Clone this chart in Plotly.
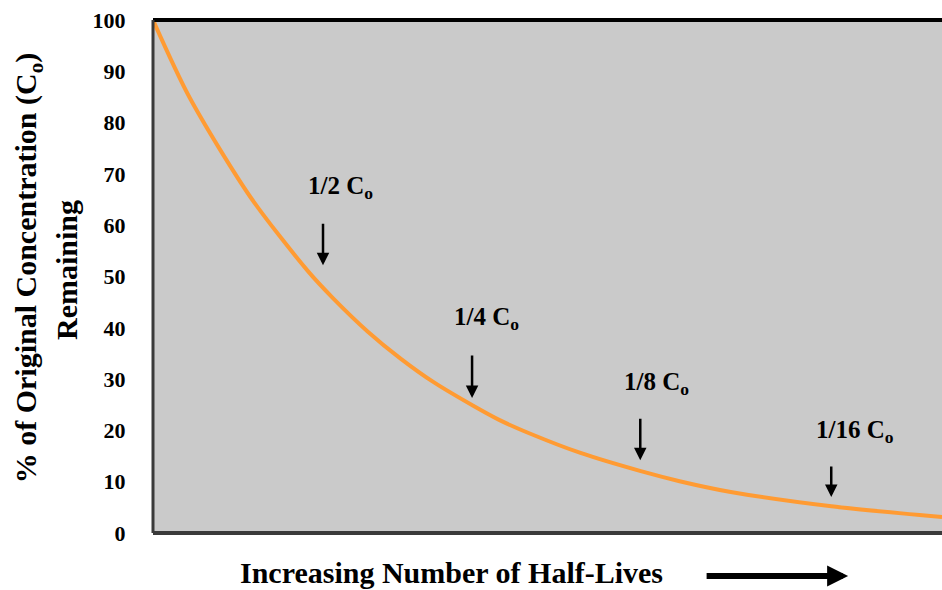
import plotly.graph_objects as go

# Curve (x in half-lives, y in % of C0 remaining)
half_lives = [0, 0.22, 0.59, 0.94, 1.09, 1.30, 1.50, 1.70, 1.94, 2.10, 2.29, 2.59, 2.95, 3.19, 3.50, 4.11, 4.78]
pct_remaining = [100, 85.0, 65.5, 51.0, 45.8, 39.3, 34.0, 29.4, 24.8, 22.0, 19.3, 15.6, 12.1, 10.1, 8.0, 5.2, 3.1]

# Arrow markers: label text, arrow x, arrow-tip y, label x, label y
marker_labels = ["1/2 C<sub>o</sub>", "1/4 C<sub>o</sub>", "1/8 C<sub>o</sub>", "1/16 C<sub>o</sub>"]
arrow_x = [1.03, 1.933, 2.952, 4.109]
arrow_tip_y = [52.2, 26.3, 14.2, 7.0]
arrow_len_px = [43, 44, 43, 32]
label_x = [1.133, 2.018, 3.048, 4.255]
label_y = [67.4, 41.9, 29.2, 19.7]

y_ticks = [0, 10, 20, 30, 40, 50, 60, 70, 80, 90, 100]

FONT = "Liberation Serif, Times New Roman, serif"

fig = go.Figure()
fig.add_trace(go.Scatter(
    x=half_lives, y=pct_remaining, mode="lines",
    line=dict(color="#FF9B33", width=4, shape="spline", smoothing=0.8),
    hoverinfo="skip", showlegend=False,
))

annotations = []
for t, ax_, ty, al, lx, ly in zip(marker_labels, arrow_x, arrow_tip_y, arrow_len_px, label_x, label_y):
    annotations.append(dict(
        x=ax_, y=ty, xref="x", yref="y", text="", showarrow=True,
        ax=0, ay=-al, arrowhead=2, arrowsize=1, arrowwidth=2.5, arrowcolor="black",
    ))
    annotations.append(dict(
        x=lx, y=ly, xref="x", yref="y", text=t, showarrow=False,
        font=dict(family=FONT, size=25, color="black", weight="bold"),
        xanchor="center", yanchor="middle",
    ))

# Y axis title (two lines as separate rotated annotations)
annotations.append(dict(
    x=-0.158, y=0.5166, xref="paper", yref="paper",
    text="% of Original Concentration (C<sub>o</sub>)", showarrow=False, textangle=-90,
    font=dict(family=FONT, size=30, color="black", weight="bold"),
    xanchor="center", yanchor="middle",
))
annotations.append(dict(
    x=-0.109, y=0.5127, xref="paper", yref="paper",
    text="Remaining", showarrow=False, textangle=-90,
    font=dict(family=FONT, size=30, color="black", weight="bold"),
    xanchor="center", yanchor="middle",
))
# X axis title
annotations.append(dict(
    x=0.378, y=-0.077, xref="paper", yref="paper",
    text="Increasing Number of Half-Lives", showarrow=False,
    font=dict(family=FONT, size=30, color="black", weight="bold"),
    xanchor="center", yanchor="middle",
))
# Thick right-pointing arrow
annotations.append(dict(
    x=0.881, y=-0.0838, xref="paper", yref="paper", text="", showarrow=True,
    ax=-143, ay=0, arrowhead=2, arrowsize=0.7, arrowwidth=6, arrowcolor="black",
))

shapes = [
    dict(type="line", xref="paper", yref="paper", x0=0, x1=1, y0=1, y1=1,
         line=dict(color="black", width=4)),
    dict(type="line", xref="paper", yref="paper", x0=0, x1=0, y0=0, y1=1,
         line=dict(color="#3a3a3a", width=3)),
    dict(type="line", xref="paper", yref="paper", x0=0, x1=1, y0=0, y1=0,
         line=dict(color="#3a3a3a", width=4)),
]

fig.update_layout(
    width=942, height=590,
    margin=dict(l=153, r=0, t=20, b=57),
    paper_bgcolor="white", plot_bgcolor="#CACACA",
    xaxis=dict(range=[0, 4.78], showgrid=False, zeroline=False, showticklabels=False,
               ticks="", showline=False, fixedrange=True),
    yaxis=dict(range=[0, 100], tickvals=y_ticks, showgrid=False, zeroline=False,
               ticks="outside", ticklen=22, tickcolor="rgba(0,0,0,0)",
               tickfont=dict(family=FONT, size=22, color="black", weight="bold"),
               showline=False, fixedrange=True),
    annotations=annotations,
    shapes=shapes,
)

fig.write_html("out.html", config={"displayModeBar": False},
               post_script="document.body.style.margin='0';")
